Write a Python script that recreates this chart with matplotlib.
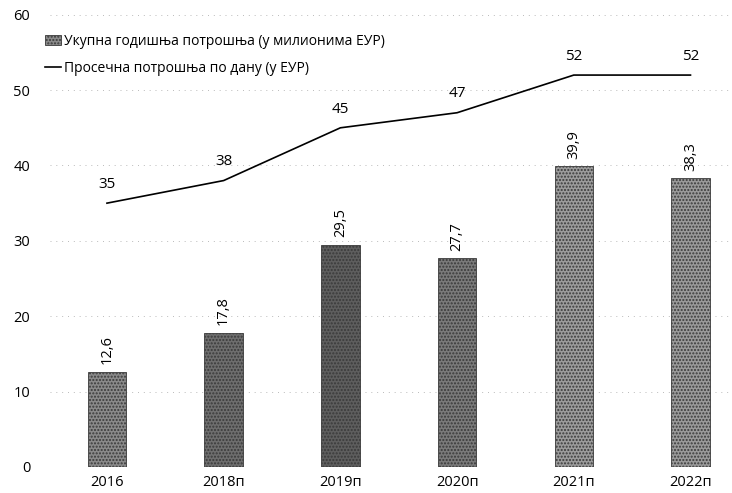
import numpy as np
import matplotlib.pyplot as plt

plt.rcParams['font.family'] = ['Open Sans', 'DejaVu Sans']

years = ['2016', '2018п', '2019п', '2020п', '2021п', '2022п']
total_spend = [12.6, 17.8, 29.5, 27.7, 39.9, 38.3]     # милиони ЕУР
daily_spend = [35, 38, 45, 47, 52, 52]                 # ЕУР по дану
bar_colors = ['#8a8a8a', '#6e6e6e', '#5e5e5e', '#7a7a7a', '#9c9c9c', '#9a9a9a']

x = np.arange(len(years))

fig = plt.figure(figsize=(7.32, 4.93), dpi=100)
ax = fig.add_axes([0.068, 0.053, 0.955, 0.917])

bars = ax.bar(x, total_spend, width=0.33, color=bar_colors, edgecolor='#3a3a3a',
              linewidth=0.6, hatch='.....', label='Укупна годишња потрошња (у милионима ЕУР)',
              zorder=2)
line, = ax.plot(x, daily_spend, color='black', lw=1.2,
                label='Просечна потрошња по дану (у ЕУР)', zorder=3)

for xi, v in zip(x, total_spend):
    ax.text(xi, v + 1.0, f'{v:.1f}'.replace('.', ','), rotation=90,
            ha='center', va='bottom', fontsize=10.5)
for xi, v in zip(x, daily_spend):
    ax.text(xi, v + 1.5, f'{v}', ha='center', va='bottom', fontsize=11)

ax.set_ylim(0, 60)
ax.set_xlim(-0.49, 5.5)
ax.set_yticks(range(0, 61, 10))
ax.set_xticks(x, years)
ax.yaxis.grid(True, ls=(0, (1, 5)), color='#bbbbbb', lw=0.7, zorder=0)
ax.tick_params(length=0, labelsize=10.5)
ax.tick_params(axis='y', pad=14)
ax.tick_params(axis='x', pad=6)
for s in ax.spines.values():
    s.set_visible(False)

ax.legend([bars, line], [bars.get_label(), line.get_label()],
          loc='upper left', bbox_to_anchor=(-0.025, 0.985), frameon=False,
          fontsize=10, handlelength=1.2, handletextpad=0.2, labelspacing=0.85)

fig.savefig('out.png', dpi=100)
